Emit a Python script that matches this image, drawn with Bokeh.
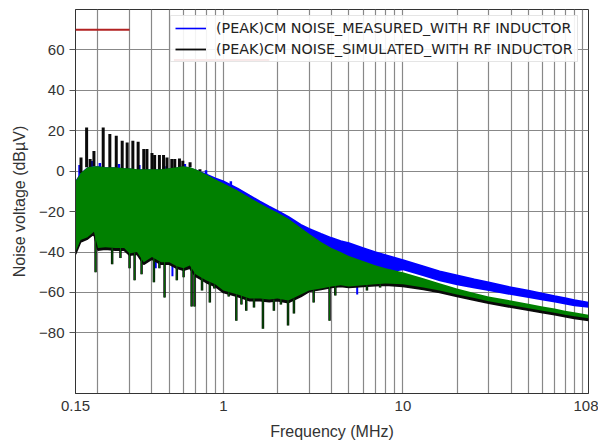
from bokeh.plotting import figure
from bokeh.models import (Range1d, FixedTicker, CustomJSTickFormatter, Legend,
                          LegendItem, ColumnDataSource, Arrow)
from bokeh.embed import file_html
from bokeh.resources import INLINE

# ---------------- data ----------------
freq = [0.15, 0.16, 0.175, 0.19, 0.2, 0.22, 0.25, 0.28, 0.3, 0.33, 0.36, 0.4, 0.45,
        0.5, 0.55, 0.6, 0.65, 0.7, 0.8, 0.9, 1.0, 1.2, 1.4, 1.6, 1.8, 2.0, 2.3, 2.7,
        3.0, 3.5, 4.0, 4.5, 5.0, 6.0, 7.0, 8.0, 10, 13, 16, 20, 25, 30, 40, 50, 60,
        70, 80, 90, 108]

meas_hi = [-5.5, -1.5, 1.5, 2, 2, 1.5, 1.5, 1, 1, 0.5, 0.5, 0.5, 0.5,
           1, 1.5, 2, 1.5, 0.5, -1.5, -3.5, -5, -8.5, -12, -15, -17.5, -19.5, -22.5, -26.5,
           -28.5, -31, -33, -34.5, -35.5, -38, -40, -41.5, -44, -47, -49.5, -51.5, -53.5, -55, -57.5, -59, -60.5,
           -61.8, -62.8, -63.8, -65]
meas_lo = [-38, -33, -31, -29, -36, -36, -36, -36, -39, -38, -43, -41, -43,
           -43, -45, -46, -45, -49, -52, -54, -57, -59, -61, -61, -61, -61, -62, -59,
           -57, -56, -55, -54.5, -55, -54, -52, -50.5, -49, -52, -54.5, -56.5, -58, -59.3, -61.3, -62.7, -64,
           -65, -66, -66.8, -67.6]

sim_hi = [-5.5, -1.5, 1.5, 2, 2, 1.5, 1.5, 1, 1, 0.5, 0.5, 0.5, 0.5,
          1, 1.5, 2, 1.5, 0.5, -2, -4.5, -6.5, -10, -13.5, -16.5, -19, -21, -24, -28.5,
          -31.5, -35.5, -38.5, -40.5, -42.5, -45, -47, -48.5, -50.5, -53.5, -56, -58.5, -60.8, -62.5, -64.5, -66.1, -67.5,
          -68.5, -69.5, -70.3, -71.5]
sim_lo = [-41, -35, -33.5, -31, -39, -38.5, -39, -39, -41.5, -41, -46, -43.5, -46,
          -46, -48, -49, -48, -52, -55, -57, -60, -62, -64, -64, -64.5, -64, -65, -62,
          -59.5, -58.5, -57.5, -57, -57.5, -57, -56.6, -56.4, -57, -58.5, -60, -62, -63.8, -65.3, -67.3, -68.8, -70,
          -71, -72, -72.8, -73.8]

green_hi = [-5, -1, 2, 2.5, 2.5, 2, 2, 1.5, 1.5, 1, 1, 1, 1,
            1.5, 2, 2.5, 2, 1, -1.5, -4, -6, -9.5, -13, -16, -18.5, -20.5, -23.5, -28,
            -31, -35, -38, -40, -42, -44.5, -46.5, -48, -50, -53, -55.5, -58, -60.3, -62, -64, -65.6, -67,
            -68, -69, -69.8, -71]
green_lo = [-40, -34, -32.7, -30, -38, -37.6, -38, -38, -40.7, -40, -45, -42.5, -45,
            -45, -47, -48, -46.7, -51, -54, -56, -59, -61, -63, -63, -63.5, -63, -64, -61,
            -59, -58, -57, -56.5, -57, -56.5, -56, -55.6, -56, -57.5, -59, -61, -62.8, -64.3, -66.3, -67.8, -69,
            -70, -71, -71.8, -72.8]

# harmonic peaks (simulated) on the upper edge
up_spike_f = [0.161, 0.173, 0.181, 0.19, 0.214, 0.233, 0.253, 0.273, 0.291, 0.313, 0.335,
              0.36, 0.375, 0.40, 0.414, 0.44, 0.464, 0.485, 0.516, 0.536, 0.569, 0.594,
              0.652, 0.74]
up_spike_top = [6.8, 21.6, 6, 10, 21.6, 18.4, 17.5, 15, 14.2, 15, 14.6,
                11, 11, 9, 8, 8, 8, 6.8, 6, 6, 6.3, 5.2,
                4.4, 1]
up_spike_base = [-1, 2, 2, 2.5, 2, 1.5, 1.5, 1, 1, 0.5, 0,
                 0, 0, 0, 0, 0, 0, 0, 0, 1, 2, 2,
                 2, 0]

# measured trace: small tips showing at the foot of the harmonic peaks
meas_tip_f = [0.158, 0.185, 0.205, 0.262, 0.34, 0.47, 0.61, 0.8, 1.1]
meas_tip_top = [3, 5, 4, 3.5, 3, 2.5, 3.5, 0.5, -5]
meas_tip_base = [-3, 1, 1, 0, 0, 0, 1, -2, -8]

# deep notches (simulated) on the lower edge
dn_spike_f = [0.194, 0.24, 0.267, 0.30, 0.32, 0.35, 0.41, 0.44, 0.47, 0.55, 0.60,
              0.665, 0.69, 0.76, 0.84, 0.89, 1.07, 1.18, 1.26, 1.34, 1.48, 1.66,
              1.91, 2.09, 2.29, 2.47, 3.18, 3.9, 4.2, 6.3, 7.46]
dn_spike_bot = [-50, -46, -43, -48, -54, -51, -55, -48, -62.5, -54, -52.5,
                -67, -67, -59, -65, -58, -62, -74, -66, -69, -67.5, -78,
                -69, -66, -76.3, -70.4, -65, -74, -61.5, -59, -57.5]
dn_spike_base = [-32, -38, -38, -40, -40.5, -42, -43, -45, -45, -47, -48,
                 -47, -50, -52, -55, -56, -60, -61, -61.5, -62.5, -63, -63,
                 -63.5, -63, -64, -63, -59, -57, -57, -56.5, -56]

# notches of the measured trace that show below the simulated one
meas_dip_f = [0.42, 0.52, 0.70, 5.56]
meas_dip_bot = [-48, -52, -52, -61]
meas_dip_base = [-44, -45, -48, -56]

# limit lines (LW and MW bands)
limit_f0 = [0.15, 0.53]
limit_f1 = [0.30, 1.8]
limit_v = [70, 55]

major_x = [0.15, 1, 10, 108]
minor_x = [0.2, 0.3, 0.4, 0.5, 0.6, 0.7, 0.8, 0.9, 2, 3, 4, 5, 6, 7, 8, 9,
           20, 30, 40, 50, 60, 70, 80, 90, 100]
major_y = [-80, -60, -40, -20, 0, 20, 40, 60]

label_meas = "(PEAK)CM NOISE_MEASURED_WITH RF INDUCTOR"
label_sim = "(PEAK)CM NOISE_SIMULATED_WITH RF INDUCTOR"

# ---------------- figure ----------------
BLUE = "#0000ff"
BLACK = "#0a0a0a"
GREEN = "#008000"
RED = "#b22222"
GRID = "#888888"
TXT = "#333333"

p = figure(frame_width=513, frame_height=384, x_axis_type="log",
           x_range=Range1d(0.15, 108), y_range=Range1d(-110, 80),
           output_backend="svg", toolbar_location=None,
           min_border_left=0, min_border_right=10, min_border_top=9,
           min_border_bottom=0)
p.margin = (0, 0, 0, 8)

p.outline_line_color = "#333333"
p.outline_line_width = 1

src = ColumnDataSource(dict(f=freq, mh=meas_hi, ml=meas_lo, sh=sim_hi, sl=sim_lo,
                            gh=green_hi, gl=green_lo))

# measured (blue)
p.varea(x="f", y1="ml", y2="mh", source=src, fill_color=BLUE)
r_meas = p.line(x="f", y="mh", source=src, line_color=BLUE, line_width=1.6)
p.segment(x0=meas_dip_f, y0=meas_dip_base, x1=meas_dip_f, y1=meas_dip_bot,
          line_color=BLUE, line_width=2)
p.segment(x0=meas_tip_f, y0=meas_tip_base, x1=meas_tip_f, y1=meas_tip_top,
          line_color=BLUE, line_width=2.5)

# simulated (black)
p.varea(x="f", y1="sl", y2="sh", source=src, fill_color=BLACK)
r_sim = p.line(x="f", y="sl", source=src, line_color=BLACK, line_width=1.8)
p.segment(x0=up_spike_f, y0=up_spike_base, x1=up_spike_f, y1=up_spike_top,
          line_color=BLACK, line_width=3)
p.segment(x0=dn_spike_f, y0=dn_spike_base, x1=dn_spike_f, y1=dn_spike_bot,
          line_color=BLACK, line_width=2.5)

# third trace (green) drawn on top
p.varea(x="f", y1="gl", y2="gh", source=src, fill_color=GREEN)
p.segment(x0=dn_spike_f, y0=dn_spike_base, x1=dn_spike_f, y1=dn_spike_bot,
          line_color=GREEN, line_width=0.8)

# ---------------- axes / grid ----------------
xt = FixedTicker(ticks=major_x, minor_ticks=minor_x)
p.xaxis.ticker = xt
p.xgrid.ticker = xt
p.xaxis.formatter = CustomJSTickFormatter(code="return String(tick);")
p.yaxis.ticker = FixedTicker(ticks=major_y)
p.yaxis.formatter = CustomJSTickFormatter(
    code="return tick < 0 ? '\\u2212' + Math.abs(tick) : String(tick);")

for g in (p.xgrid, p.ygrid):
    g.grid_line_color = GRID
    g.grid_line_width = 1.2
p.xgrid.minor_grid_line_color = GRID
p.xgrid.minor_grid_line_width = 1.2

p.xaxis.major_tick_out = 0
p.xaxis.major_tick_in = 0
p.xaxis.minor_tick_out = 0
p.xaxis.minor_tick_in = 0
p.yaxis.major_tick_out = 6
p.yaxis.major_tick_in = 0
p.yaxis.minor_tick_out = 0
p.yaxis.minor_tick_in = 0
for ax in (p.xaxis, p.yaxis):
    ax.axis_line_color = "#333333"
    ax.major_tick_line_color = "#555555"
    ax.major_label_text_font = "Liberation Sans"
    ax.major_label_text_font_size = "15px"
    ax.major_label_text_color = TXT
    ax.axis_label_text_font = "Liberation Sans"
    ax.axis_label_text_font_size = "16px"
    ax.axis_label_text_font_style = "normal"
    ax.axis_label_text_color = TXT
p.xaxis.major_label_standoff = 7
p.yaxis.major_label_standoff = 5
p.xaxis.axis_label = "Frequency (MHz)"
p.yaxis.axis_label = "Noise voltage (dBµV)"
p.xaxis.axis_label_standoff = 9
p.yaxis.axis_label_standoff = 8

# ---------------- legend ----------------
legend = Legend(items=[LegendItem(label=label_meas, renderers=[r_meas]),
                       LegendItem(label=label_sim, renderers=[r_sim])],
                location=(95, 331))
legend.label_text_font = "DejaVu Sans"
legend.label_text_font_size = "14.3px"
legend.label_text_color = "#222222"
legend.glyph_width = 31
legend.glyph_height = 16
legend.label_height = 16
legend.label_standoff = 10
legend.spacing = 5
legend.padding = 4
legend.margin = 0
legend.border_line_color = "#cccccc"
legend.border_line_width = 1
legend.background_fill_alpha = 0.9
p.add_layout(legend, "center")

# limit lines, added after the legend so they are painted over it
lim_src = ColumnDataSource(dict(x0=limit_f0, x1=limit_f1, y=limit_v))
lim = Arrow(x_start="x0", y_start="y", x_end="x1", y_end="y", source=lim_src,
            start=None, end=None, line_color=RED, line_width=2, level="overlay")
p.add_layout(lim, "center")

open("out.html", "w").write(file_html(p, INLINE))
